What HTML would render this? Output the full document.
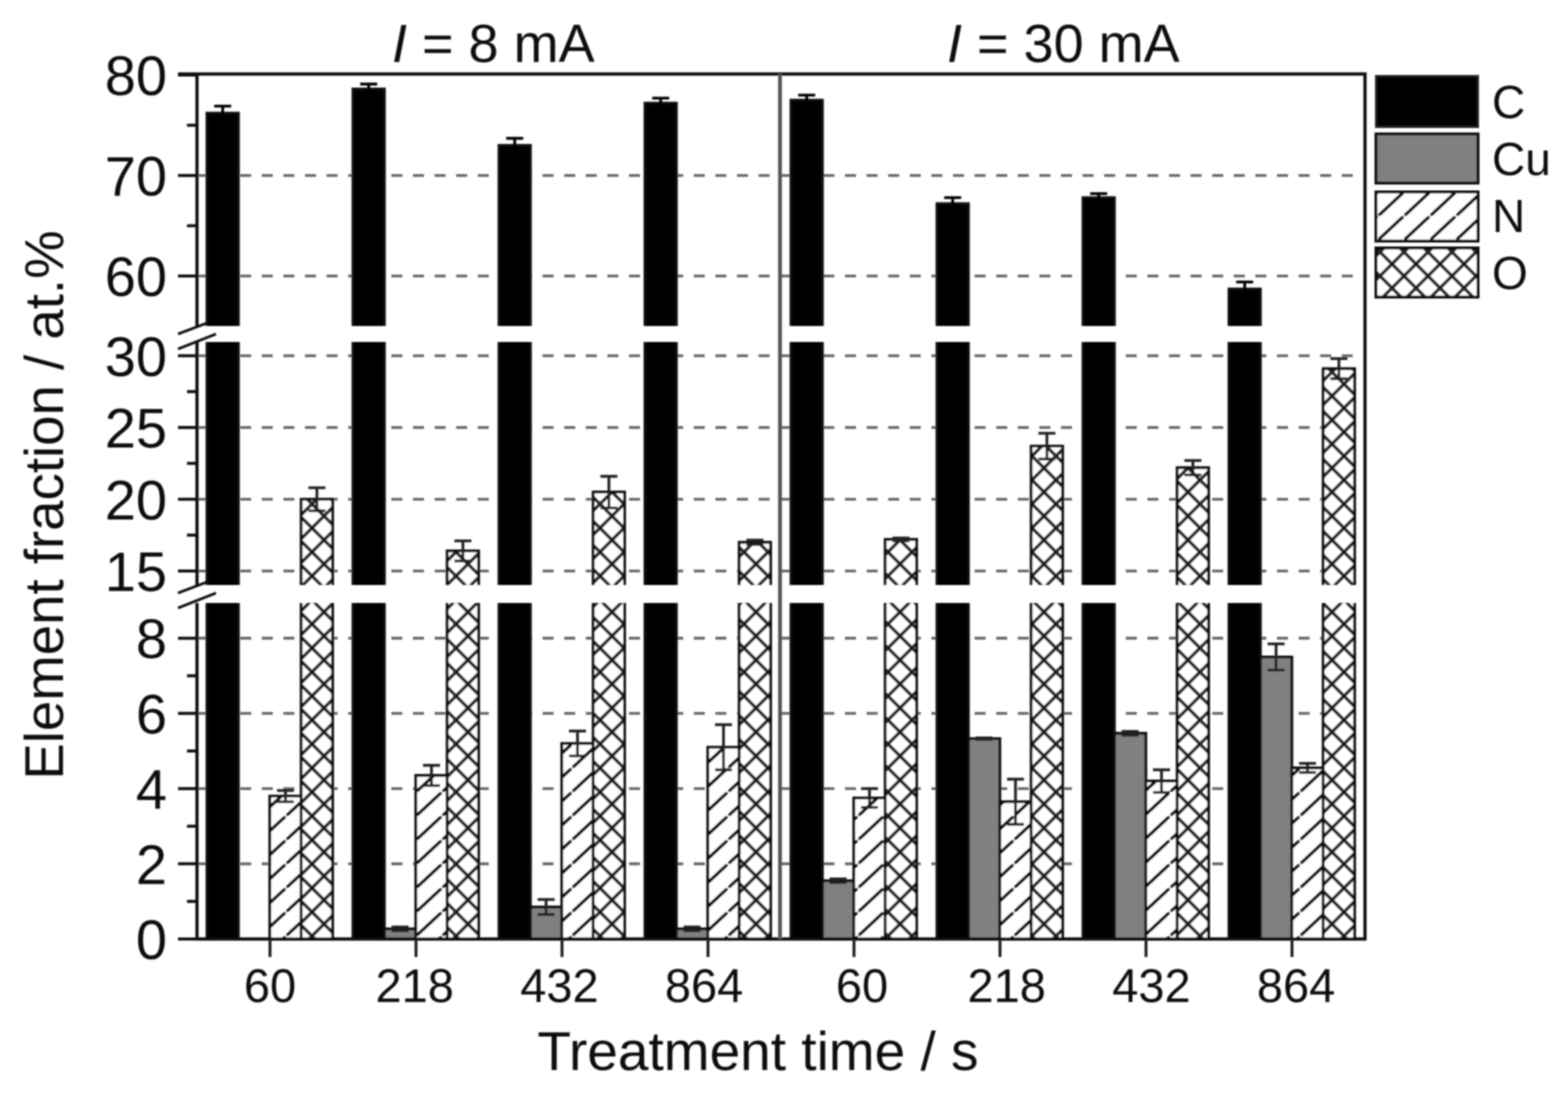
<!DOCTYPE html>
<html lang="en">
<head>
<meta charset="utf-8">
<title>Element fraction vs treatment time</title>
<style>
html,body{margin:0;padding:0;background:#fff;width:1560px;height:1102px;overflow:hidden}
svg{display:block}
text{font-family:"Liberation Sans",Arial,sans-serif;fill:#111}
</style>
</head>
<body>
<svg id="chart" xmlns="http://www.w3.org/2000/svg" width="1560" height="1102" viewBox="0 0 1560 1102">
<defs>
<filter id="soft" x="0" y="0" width="100%" height="100%"><feGaussianBlur stdDeviation="0.7"/></filter>
<pattern id="hatch-n" patternUnits="userSpaceOnUse" width="26" height="24">
<rect width="26" height="24" fill="#fff"/>
<path d="M-2 26L28 -2" stroke="#000" stroke-width="3.3" fill="none"/>
</pattern>
<pattern id="hatch-o" patternUnits="userSpaceOnUse" width="24" height="24">
<rect width="24" height="24" fill="#fff"/>
<path d="M-2 26L26 -2M-2 -2L26 26" stroke="#222" stroke-width="3.4" fill="none"/>
</pattern>
</defs>
<g id="root" filter="url(#soft)">
<g id="grid"></g>
<g id="bars"></g>
<g id="errs"></g>
<g id="axes"></g>
<text x="392" y="62" font-size="54"><tspan font-style="italic">I</tspan> = 8 mA</text>
<text x="947" y="62" font-size="54"><tspan font-style="italic">I</tspan> = 30 mA</text>
<text x="758" y="1070" font-size="55" text-anchor="middle">Treatment time / s</text>
<text transform="translate(63,505) rotate(-90)" font-size="54.6" text-anchor="middle">Element fraction / at.%</text>
<g>
<g><rect x="1376" y="76" width="102" height="51" fill="#000" stroke="#222" stroke-width="2"/><text x="1492" y="118" font-size="46">C</text></g>
<g><rect x="1376" y="134" width="102" height="49" fill="#808080" stroke="#111" stroke-width="3"/><text x="1492" y="175" font-size="46">Cu</text></g>
<g><rect x="1376" y="192" width="102" height="49" fill="url(#hatch-n)" stroke="#111" stroke-width="3"/><text x="1492" y="232" font-size="46">N</text></g>
<g><rect x="1376" y="248" width="102" height="49" fill="url(#hatch-o)" stroke="#111" stroke-width="3"/><text x="1492" y="289" font-size="46">O</text></g>
</g>
</g>
</svg>
<script>
const categories = ["60","218","432","864","60","218","432","864"];
const seriesC = [76.2,78.6,73.0,77.2,77.5,67.2,67.8,58.7];
const seriesCu = [0,0.27,0.85,0.27,1.55,5.33,5.47,7.5];
const seriesN = [3.8,4.35,5.2,5.1,3.75,3.65,4.2,4.55];
const seriesO = [20,16.4,20.5,17,17.2,23.7,22.2,29.1];
const errC = [0.7,0.5,0.7,0.5,0.5,0.6,0.4,0.7];
const errCu = [0,0.05,0.2,0.05,0.05,0.02,0.05,0.35];
const errN = [0.15,0.27,0.33,0.6,0.25,0.6,0.3,0.12];
const errO = [0.8,0.7,1.1,0.15,0.1,0.9,0.5,0.7];
const seriesNames = ["c","cu","n","o"];
const seriesFills = ["#000","#808080","url(#hatch-n)","url(#hatch-o)"];
const ticksLow = [0,2,4,6,8];
const ticksMid = [15,20,25,30];
const ticksHigh = [60,70,80];
const minorLow = [1,3,5,7];
const minorMid = [17.5,22.5,27.5];
const minorHigh = [65,75];

const NS = "http://www.w3.org/2000/svg";
const L = 197, R = 1365, T = 74, B = 939;
const yLow = v => 939 - 37.6 * v;
const yMid = v => 571 - (v - 15) * 14.35;
const yHigh = v => 276 - (v - 60) * 10.05;
const segs = [
  {fn: yLow, yBottom: 939, yTop: 603},
  {fn: yMid, yBottom: 585, yTop: 342},
  {fn: yHigh, yBottom: 326, yTop: 74}
];
const barW = 31.4;
const xCenter = i => 270 + 146 * i;
const xBar = (i, s) => xCenter(i) - 63 + s * barW;
const xLabel = i => 270 + 144.7 * (i % 4) + (i >= 4 ? 592 : 0);

function segFor(v) {
  if (v >= 55) return segs[2];
  if (v >= 14) return segs[1];
  return segs[0];
}
function yOf(v) { return segFor(v).fn(v); }
function mk(tag, attrs, parent) {
  const e = document.createElementNS(NS, tag);
  for (const k in attrs) e.setAttribute(k, attrs[k]);
  parent.appendChild(e);
  return e;
}

const gGrid = document.getElementById("grid");
const gBars = document.getElementById("bars");
const gErr = document.getElementById("errs");
const gAxes = document.getElementById("axes");

function axisGroup(fn, majors, minors, labelName) {
  majors.forEach(v => {
    const y = fn(v);
    if (v !== 0 && v !== 80) {
      const g = mk("line", {x1: L, x2: R, y1: y, y2: y, stroke: "#666", "stroke-width": 2.8, "stroke-dasharray": "11 10.6"}, gGrid);
      
      
    }
    const t = mk("line", {x1: 178, x2: L, y1: y, y2: y, stroke: "#111", "stroke-width": 3}, gAxes);
    
    
    const lab = mk("text", {x: 167, y: y + 20, "font-size": 56, "text-anchor": "end"}, gAxes);
    lab.textContent = String(v);
    
    
  });
  minors.forEach(v => {
    const y = fn(v);
    const t = mk("line", {x1: 187, x2: L, y1: y, y2: y, stroke: "#111", "stroke-width": 3}, gAxes);
    
    
  });
}
axisGroup(yLow, ticksLow, minorLow, "y-tick-label-low");
axisGroup(yMid, ticksMid, minorMid, "y-tick-label-mid");
axisGroup(yHigh, ticksHigh, minorHigh, "y-tick-label-high");

const allSeries = [seriesC, seriesCu, seriesN, seriesO];
const allErr = [errC, errCu, errN, errO];

allSeries.forEach((vals, s) => {
  vals.forEach((v, i) => {
    if (v <= 0) return;
    const x = xBar(i, s);
    const top = segFor(v);
    const yV = yOf(v);
    segs.forEach(seg => {
      if (seg.yBottom < top.yBottom) return;
      const isTop = seg === top;
      const y1 = isTop ? yV : seg.yTop;
      const r = mk("rect", {x: x, y: y1, width: barW, height: seg.yBottom - y1, fill: seriesFills[s]}, gBars);
      
      
      let d = "M" + x + " " + seg.yBottom + "V" + y1;
      d += isTop ? "H" + (x + barW) : "M" + (x + barW) + " " + y1;
      d += "V" + seg.yBottom;
      const p = mk("path", {d: d, fill: "none", stroke: "#111", "stroke-width": 2.8}, gBars);
      
      
    });
    const e = allErr[s][i];
    if (e > 0) {
      const cx = x + barW / 2;
      const fn = top.fn;
      const eb = mk("path", {d: "M" + cx + " " + fn(v + e) + "V" + fn(v - e) + "M" + (cx - 8.5) + " " + fn(v + e) + "h17M" + (cx - 8.5) + " " + fn(v - e) + "h17", fill: "none", stroke: s === 0 ? "#000" : "#222", "stroke-width": 2.8}, gErr);
      
      
    }
  });
});

const spines = mk("path", {d: "M" + 178 + " " + T + "H" + R + "V" + B + "H" + L + "M" + L + " " + T + "V326M" + L + " 342V585M" + L + " 603V" + B, fill: "none", stroke: "#111", "stroke-width": 3.2}, gAxes);


const divider = mk("line", {x1: 780, x2: 780, y1: T, y2: B, stroke: "#555", "stroke-width": 3.8}, gAxes);



const breakYs = [[334,349],[593,608]];
breakYs.forEach(b => {
  b.forEach((y, j) => {
    const m = mk("line", {x1: 178, x2: j === 0 ? 207 : 216, y1: y, y2: y - (j === 0 ? 11 : 15), stroke: "#111", "stroke-width": 2.6}, gAxes);
    
    
  });
});

categories.forEach((c, i) => {
  const t = mk("line", {x1: xCenter(i), x2: xCenter(i), y1: B, y2: 957, stroke: "#222", "stroke-width": 3}, gAxes);
  
  
  const lab = mk("text", {x: xLabel(i), y: 1002, "font-size": 47, "text-anchor": "middle"}, gAxes);
  lab.textContent = c;
  
  
});
</script>
</body>
</html>
